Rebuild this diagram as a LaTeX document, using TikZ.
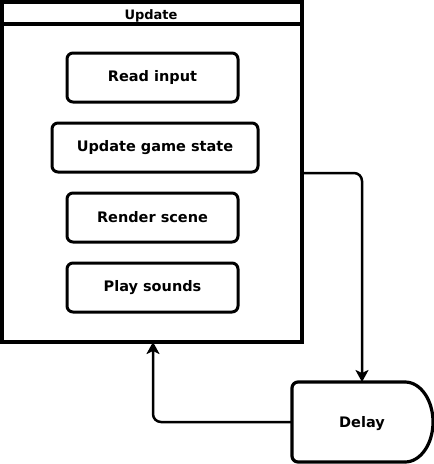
\documentclass[tikz,border=0pt]{standalone}
\usepackage{fontspec}
\setmainfont{DejaVu Sans}
\usetikzlibrary{arrows.meta}
\begin{document}
\begin{tikzpicture}[x=1pt,y=-1pt,
  stepbox/.style={draw,line width=3pt,rounded corners=6pt,inner sep=0pt,font=\fontsize{14.5}{17}\selectfont\bfseries},
  conn/.style={draw,line width=2.5pt,rounded corners=8pt,-{Stealth[length=12pt,width=13pt,inset=3pt]}}]
\useasboundingbox (0,0) rectangle (434,464);
% container
\node[draw,line width=3.2pt,minimum width=300pt,minimum height=340pt,inner sep=0pt] (upd) at (152,172) {};
\draw[line width=3.2pt] (2,24) -- (302,24);
\node[font=\fontsize{13}{15}\selectfont\bfseries] (title) at (151,15.5) {Update};
\node[stepbox,minimum width=171pt,minimum height=49pt] (read) at (152.5,77.5) {Read input};
\node[stepbox,minimum width=206pt,minimum height=49pt] (game) at (155,147.5) {Update game state};
\node[stepbox,minimum width=171pt,minimum height=49pt] (render) at (152.5,217.5) {Render scene};
\node[stepbox,minimum width=171pt,minimum height=49pt] (play) at (152.5,287.5) {Play sounds};
% delay shape
\coordinate (dl) at (292,422);
\coordinate (dt) at (362,382);
\draw[line width=3.2pt,rounded corners=6pt] (405,382) -- (292,382) -- (292,462) -- (405,462);
\draw[line width=3.2pt] (405,462) arc[start angle=90,end angle=-90,x radius=28pt,y radius=-40pt];
\node[font=\fontsize{14.5}{17}\selectfont\bfseries] (delay) at (362,424) {Delay};
\coordinate (updr) at (302,173);
\coordinate (updb) at (153,342);
\draw[conn] (updr) -| (dt);
\draw[conn] (dl) -| (updb);
\end{tikzpicture}
\end{document}
